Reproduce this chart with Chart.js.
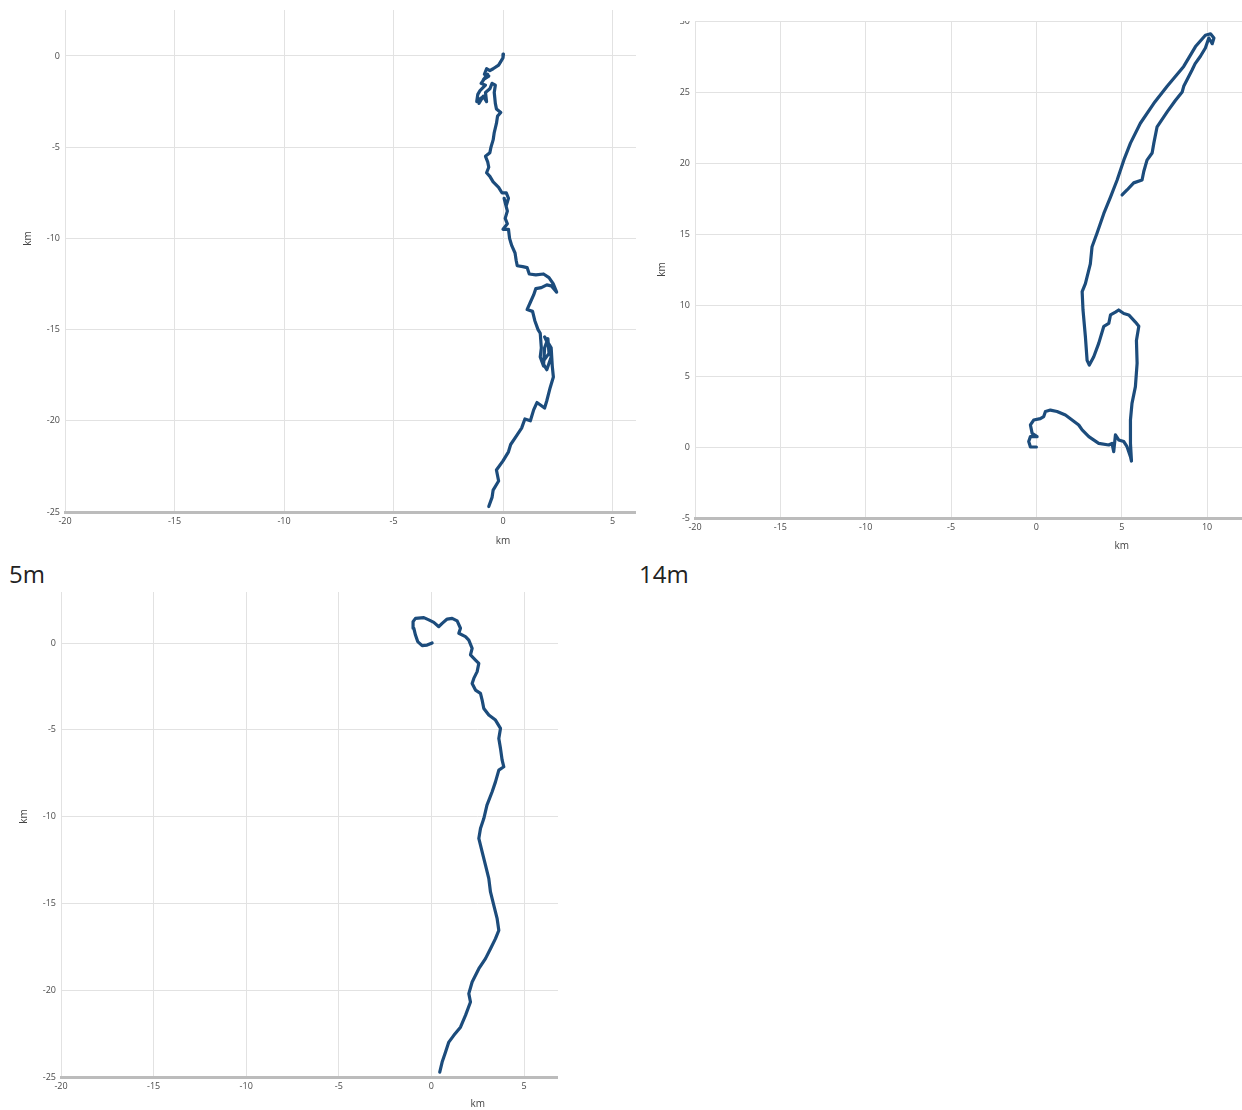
<!DOCTYPE html>
<html>
<head>
<meta charset="utf-8">
<script src="https://cdn.jsdelivr.net/npm/chart.js@4.4.1/dist/chart.umd.min.js"></script>
<style>
  html, body { margin: 0; padding: 0; background: #fff; width: 1242px; height: 1110px; overflow: hidden; position: relative; }
  .clip { position: absolute; overflow: hidden; }
  .clip canvas { position: absolute; }
  .cap { position: absolute; font-family: 'Open Sans', 'Liberation Sans', sans-serif; font-size: 24px; color: #222; line-height: 1; white-space: nowrap; }
</style>
</head>
<body>
<div class="cap" style="left:9px;top:562px">5m</div>
<div class="cap" style="left:639px;top:562px">14m</div>
<script>
// Drift tracks, east (x) and north (y) offsets in km from the release point.

// Upper-left track
const trackAx = [0.02, 0.0, -0.2, -0.45, -0.6, -0.75, -0.85, -0.65, -0.9, -0.7, -1.0, -0.8, -1.05, -1.15, -1.2, -1.0, -1.1, -0.9, -0.75, -0.8, -0.6, -0.5, -0.35, -0.4, -0.35, -0.3, -0.1, -0.25, -0.3, -0.4, -0.45, -0.55, -0.6, -0.8, -0.7, -0.65, -0.75, -0.6, -0.45, -0.2, -0.05, 0.15, 0.25, 0.15, 0.05, 0.2, 0.1, 0.2, 0.0, 0.25, 0.3, 0.4, 0.55, 0.6, 0.65, 0.9, 1.1, 1.2, 1.5, 1.85, 2.1, 2.3, 2.45, 2.2, 2.0, 1.75, 1.5, 1.4, 1.25, 1.1, 1.35, 1.45, 1.6, 1.7, 1.75, 1.7, 1.85, 1.9, 2.05, 2.1, 1.8, 2.0, 2.2, 2.05, 1.9, 2.2, 2.25, 2.3, 2.15, 2.0, 1.9, 1.55, 1.4, 1.25, 1.0, 0.85, 0.6, 0.35, 0.25, 0.0, -0.3, -0.2, -0.45, -0.5, -0.65];
const trackAy = [0.1, -0.1, -0.5, -0.7, -0.8, -0.7, -1.0, -1.1, -1.3, -1.0, -1.5, -1.6, -1.9, -2.1, -2.5, -2.3, -2.6, -2.2, -2.5, -2.0, -1.8, -1.5, -1.6, -2.0, -2.6, -2.9, -3.1, -3.3, -3.7, -4.2, -4.6, -5.0, -5.3, -5.5, -5.8, -6.1, -6.4, -6.6, -6.9, -7.2, -7.5, -7.5, -7.8, -8.2, -7.8, -8.5, -8.9, -9.2, -9.5, -9.5, -10.0, -10.4, -10.8, -11.2, -11.5, -11.55, -11.6, -11.95, -12.0, -11.95, -12.15, -12.5, -12.95, -12.6, -12.55, -12.7, -12.75, -13.1, -13.5, -13.9, -14.0, -14.5, -15.0, -15.2, -16.0, -16.5, -17.0, -16.0, -15.5, -16.3, -16.8, -17.2, -16.5, -15.8, -15.4, -16.0, -17.0, -17.6, -18.2, -18.9, -19.3, -19.0, -19.4, -20.0, -19.9, -20.4, -20.85, -21.3, -21.7, -22.2, -22.7, -23.3, -23.8, -24.2, -24.7];

// Upper-right track
const trackBx = [0.0, -0.35, -0.45, -0.35, 0.04, -0.25, -0.35, -0.16, 0.23, 0.43, 0.53, 0.82, 1.21, 1.7, 2.09, 2.48, 2.68, 3.07, 3.65, 4.24, 4.43, 4.53, 4.63, 4.82, 5.12, 5.31, 5.51, 5.57, 5.51, 5.51, 5.6, 5.8, 5.9, 5.86, 6.0, 5.8, 5.41, 5.12, 4.82, 4.63, 4.34, 4.24, 3.95, 3.65, 3.36, 3.1, 2.97, 2.87, 2.73, 2.68, 2.87, 3.16, 3.26, 3.55, 3.95, 4.34, 4.73, 5.12, 5.51, 6.09, 6.88, 7.66, 8.63, 9.32, 9.9, 10.2, 10.4, 10.3, 10.1, 9.9, 9.6, 9.3, 9.12, 8.63, 8.54, 8.14, 7.66, 7.07, 6.88, 6.78, 6.48, 6.29, 6.19, 5.7, 5.31, 5.02];
const trackBy = [0.0, 0.0, 0.38, 0.73, 0.73, 0.96, 1.55, 1.9, 2.0, 2.14, 2.5, 2.6, 2.5, 2.25, 1.9, 1.55, 1.2, 0.73, 0.26, 0.14, 0.26, -0.33, 0.85, 0.5, 0.38, 0.02, -0.68, -0.99, 0.26, 1.9, 3.07, 4.25, 5.9, 7.5, 8.5, 8.8, 9.3, 9.4, 9.65, 9.5, 9.3, 8.7, 8.5, 7.3, 6.36, 5.77, 6.1, 7.77, 9.65, 10.94, 11.5, 12.9, 14.1, 15.05, 16.45, 17.6, 18.8, 20.2, 21.4, 22.8, 24.2, 25.4, 26.8, 28.2, 29.0, 29.1, 28.8, 28.4, 28.8, 28.1, 27.5, 27.0, 26.55, 25.4, 25.0, 24.4, 23.6, 22.55, 21.4, 20.7, 20.2, 19.4, 18.8, 18.6, 18.1, 17.75];

// Lower track
const trackCx = [0.04, -0.23, -0.5, -0.74, -0.86, -0.95, -0.99, -0.86, -0.41, -0.14, 0.13, 0.4, 0.58, 0.85, 1.12, 1.39, 1.57, 1.48, 1.84, 2.02, 2.2, 2.11, 2.38, 2.56, 2.47, 2.29, 2.2, 2.38, 2.65, 2.74, 2.83, 3.1, 3.46, 3.73, 3.64, 3.73, 3.82, 3.91, 3.64, 3.46, 3.28, 3.0, 2.83, 2.65, 2.56, 2.74, 2.92, 3.1, 3.19, 3.37, 3.55, 3.64, 3.46, 3.19, 2.92, 2.56, 2.2, 2.02, 2.11, 1.84, 1.57, 1.21, 0.94, 0.76, 0.58, 0.45];
const trackCy = [0.0, -0.12, -0.15, 0.08, 0.46, 0.85, 1.23, 1.42, 1.46, 1.33, 1.19, 0.94, 1.13, 1.38, 1.42, 1.27, 0.85, 0.56, 0.37, 0.17, -0.31, -0.69, -0.98, -1.17, -1.65, -2.04, -2.33, -2.71, -2.9, -3.29, -3.77, -4.15, -4.44, -4.92, -5.5, -6.07, -6.75, -7.13, -7.32, -8.0, -8.57, -9.34, -10.11, -10.69, -11.26, -12.03, -12.8, -13.57, -14.34, -15.11, -15.88, -16.55, -17.03, -17.61, -18.18, -18.76, -19.53, -20.2, -20.68, -21.45, -22.13, -22.6, -22.99, -23.57, -24.14, -24.72];

// Axis extents (km) and tick spacing
const rangeAx = [-20, 20], rangeAy = [-25, 5];
const rangeBx = [-20, 30], rangeBy = [-5, 30];
const rangeCx = [-20, 25], rangeCy = [-25, 5];
const tickStep = 5;
const axisTitle = 'km';

const LINE = '#1c4c7c';
const GRID = '#e2e2e2';
const TICK_FONT = { family: "'Open Sans', 'Liberation Sans', sans-serif", size: 9 };
const TITLE_FONT = { family: "'Open Sans', 'Liberation Sans', sans-serif", size: 10 };

function toPoints(xs, ys) { return xs.map((x, i) => ({ x, y: ys[i] })); }

// p: plot-area box (L,T,R,B) in page px, axis box sizes, visible window (clip)
function makePanel(xs, ys, rx, ry, p) {
  const PAD = 20;
  const cl = Math.floor(p.L - p.wY) - PAD;
  const ct = Math.floor(p.T) - PAD;
  const cw = Math.ceil(p.R) + PAD - cl;
  const ch = Math.ceil(p.B + p.hX) + PAD - ct;

  const clip = document.createElement('div');
  clip.className = 'clip';
  Object.assign(clip.style, { left: p.clip[0] + 'px', top: p.clip[1] + 'px', width: p.clip[2] + 'px', height: p.clip[3] + 'px' });
  const cv = document.createElement('canvas');
  cv.width = cw; cv.height = ch;
  Object.assign(cv.style, { left: (cl - p.clip[0]) + 'px', top: (ct - p.clip[1]) + 'px', width: cw + 'px', height: ch + 'px' });
  clip.appendChild(cv);
  document.body.appendChild(clip);

  new Chart(cv, {
    type: 'line',
    data: { datasets: [{ data: toPoints(xs, ys), borderColor: LINE, borderWidth: 3.2, pointRadius: 0, tension: 0, fill: false, borderJoinStyle: 'round', borderCapStyle: 'round' }] },
    options: {
      responsive: false, animation: false, devicePixelRatio: 1,
      layout: { padding: { left: p.L - p.wY - cl, top: p.T - ct, right: cl + cw - p.R, bottom: ct + ch - (p.B + p.hX) } },
      plugins: { legend: { display: false }, tooltip: { enabled: false } },
      scales: {
        x: {
          type: 'linear', min: rx[0], max: rx[1],
          ticks: { stepSize: tickStep, padding: 4, font: TICK_FONT, color: '#4a4a4a', maxRotation: 0, autoSkip: false },
          grid: { color: GRID, drawTicks: false, lineWidth: 1 },
          border: { color: '#bcbcbc', width: 3 },
          title: { display: true, text: axisTitle, font: TITLE_FONT, color: '#444', padding: { top: 0, bottom: p.tx } },
          afterFit: s => { s.height = p.hX; }
        },
        y: {
          type: 'linear', min: ry[0], max: ry[1],
          ticks: { stepSize: tickStep, padding: 5, font: TICK_FONT, color: '#4a4a4a' },
          grid: { color: GRID, drawTicks: false, lineWidth: 1 },
          border: { display: false },
          title: { display: true, text: axisTitle, font: TITLE_FONT, color: '#444', padding: { top: p.ty, bottom: 0 } },
          afterFit: s => { s.width = p.wY; }
        }
      }
    }
  });
}

makePanel(trackAx, trackAy, rangeAx, rangeAy,
  { L: 65, T: -35.2, R: 941, B: 512, wY: 65, hX: 48, ty: 22, tx: 13, clip: [0, 10, 636, 550] });
makePanel(trackBx, trackBy, rangeBx, rangeBy,
  { L: 695, T: 21, R: 1548.5, B: 518, wY: 50, hX: 42, ty: 11, tx: 8, clip: [640, 21, 602, 539] });
makePanel(trackCx, trackCy, rangeCx, rangeCy,
  { L: 61, T: 556.2, R: 894.4, B: 1077, wY: 61, hX: 33, ty: 18, tx: 0, clip: [0, 592, 558, 518] });
</script>
</body>
</html>
